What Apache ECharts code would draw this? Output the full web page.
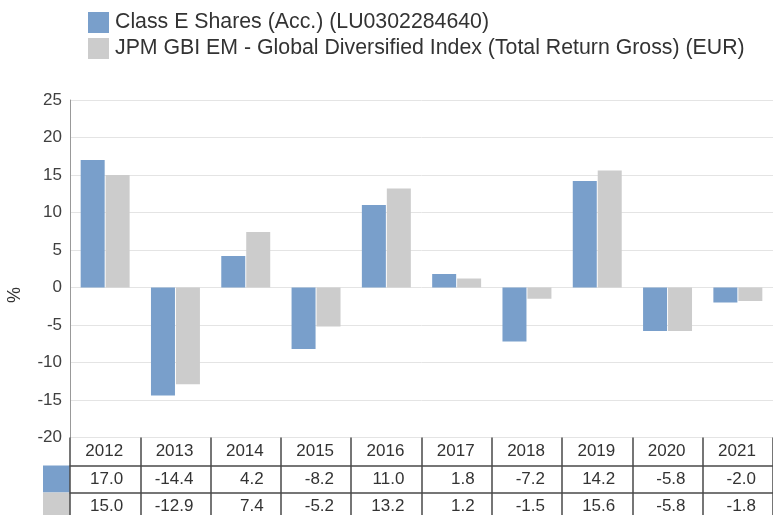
<!DOCTYPE html>
<html>
<head>
<meta charset="utf-8">
<script src="https://cdn.jsdelivr.net/npm/echarts@6/dist/echarts.min.js"></script>
<style>
html,body{margin:0;padding:0;background:#fff;}
#chart{width:773px;height:515px;}
</style>
</head>
<body>
<div id="chart"></div>
<script>
var categories = ['2012','2013','2014','2015','2016','2017','2018','2019','2020','2021'];
var fundName = 'Class E Shares (Acc.) (LU0302284640)';
var indexName = 'JPM GBI EM - Global Diversified Index (Total Return Gross) (EUR)';
var fundValues = [17.0, -14.4, 4.2, -8.2, 11.0, 1.8, -7.2, 14.2, -5.8, -2.0];
var indexValues = [15.0, -12.9, 7.4, -5.2, 13.2, 1.2, -1.5, 15.6, -5.8, -1.8];
var yTicks = { min: -20, max: 25, interval: 5 };

var FONT = 'Liberation Sans, Arial, sans-serif';
var BLUE = '#799fcb';
var GRAY = '#cccccc';
var TABLE_LINE = '#4a4a4a';

function cellLabel() {
  return {
    show: true,
    interval: 0,
    margin: 0,
    align: 'center',
    formatter: function (v) { return '{v|' + v + '}'; },
    rich: {
      v: { width: 36, align: 'right', lineHeight: 28, fontSize: 17, fontFamily: FONT, color: '#333' }
    }
  };
}

function tableAxis(data, offset, tickLen, showLine) {
  return {
    type: 'category',
    gridIndex: 0,
    position: 'bottom',
    offset: offset,
    data: data,
    axisLine: { show: showLine, onZero: false, lineStyle: { color: TABLE_LINE, width: 1.5 } },
    axisTick: { show: true, length: tickLen, inside: false, lineStyle: { color: TABLE_LINE, width: 1.5 } },
    axisLabel: cellLabel(),
    splitLine: { show: false }
  };
}

var chart = echarts.init(document.getElementById('chart'), null, { renderer: 'canvas' });
chart.setOption({
  animation: false,
  backgroundColor: '#fff',
  textStyle: { fontFamily: FONT },
  legend: {
    orient: 'vertical',
    left: 88,
    top: 12,
    padding: 0,
    itemWidth: 21,
    itemHeight: 21,
    itemGap: 5,
    icon: 'rect',
    selectedMode: false,
    textStyle: { fontSize: 21.3, color: '#333', fontFamily: FONT, padding: [0, 0, 0, 1] },
    data: [fundName, indexName]
  },
  grid: { left: 70, right: 0, top: 100, bottom: 77.5, containLabel: false },
  xAxis: [
    tableAxis(categories, 0, 28, false),
    tableAxis(fundValues.map(function (v) { return v.toFixed(1); }), 28, 27, true),
    tableAxis(indexValues.map(function (v) { return v.toFixed(1); }), 55, 30, true)
  ],
  yAxis: {
    type: 'value',
    min: yTicks.min,
    max: yTicks.max,
    interval: yTicks.interval,
    axisLine: { show: true, lineStyle: { color: '#999', width: 1 } },
    axisTick: { show: false },
    axisLabel: { fontSize: 17, color: '#404040', margin: 8, fontFamily: FONT },
    splitLine: { show: true, lineStyle: { color: '#e4e4e4', width: 1 } }
  },
  series: [
    {
      name: fundName,
      type: 'bar',
      xAxisIndex: 0,
      data: fundValues,
      barWidth: 24,
      barGap: '4%',
      itemStyle: { color: BLUE }
    },
    {
      name: indexName,
      type: 'bar',
      xAxisIndex: 0,
      data: indexValues,
      barWidth: 24,
      itemStyle: { color: GRAY }
    }
  ],
  graphic: [
    { type: 'rect', shape: { x: 43, y: 465.5, width: 27, height: 27 }, style: { fill: BLUE } },
    { type: 'rect', shape: { x: 43, y: 492.5, width: 27, height: 30 }, style: { fill: GRAY } },
    {
      type: 'text', x: 15, y: 295, rotation: Math.PI / 2,
      style: { text: '%', fontSize: 18, fill: '#333', fontFamily: FONT, align: 'center', verticalAlign: 'middle' }
    }
  ]
});
</script>
</body>
</html>
